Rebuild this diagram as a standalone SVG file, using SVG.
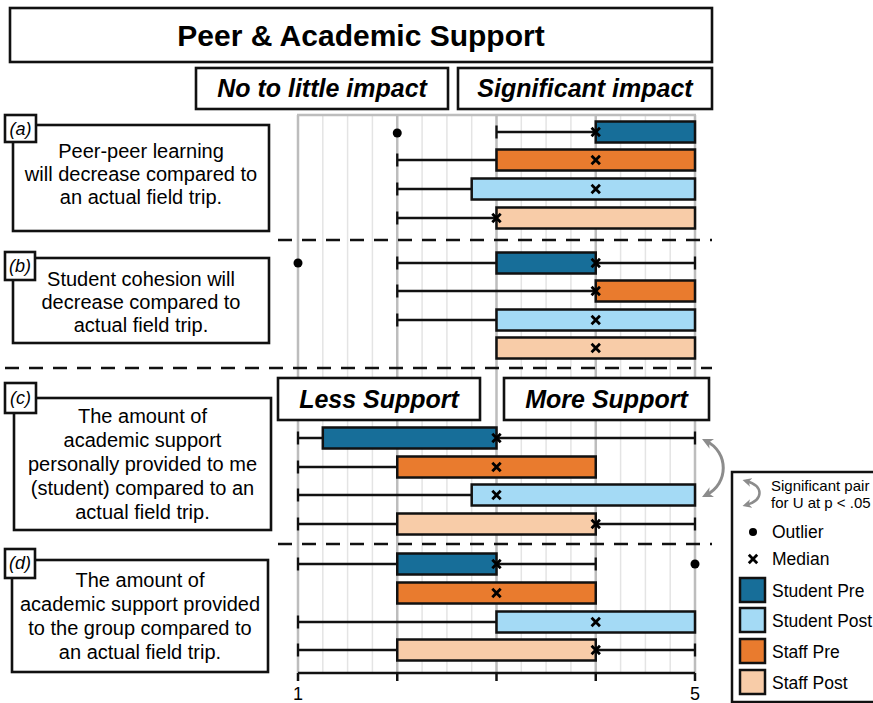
<svg xmlns="http://www.w3.org/2000/svg" width="873" height="703" viewBox="0 0 873 703">
<style>
text{font-family:"Liberation Sans",Arial,sans-serif;fill:#000}
.frame{fill:#fff;stroke:#111;stroke-width:2.6}
.q{font-size:20px;text-anchor:middle}
.lab{font-size:18px;font-style:italic;text-anchor:middle}
.hd{font-size:25px;font-weight:bold;font-style:italic;text-anchor:middle}
.minor{stroke:#e4e4e4;stroke-width:1.5}
.major{stroke:#bdbdbd;stroke-width:2.5}
.dash{stroke:#111;stroke-width:2.5;stroke-dasharray:14 10;fill:none}
.wh{stroke:#111;stroke-width:2.3;fill:none}
.bx{stroke:#111;stroke-width:2.5}
.sp{fill:#176e99}.fp{fill:#e97b2e}.so{fill:#a4daf5}.fo{fill:#f8cca8}
.lg{font-size:17.5px}
.sig{stroke:#8c8c8c;stroke-width:3;fill:none}
</style>
<defs>
<path id="med" d="M-4.2,-4.2 L4.2,4.2 M-4.2,4.2 L4.2,-4.2" stroke="#000" stroke-width="2.8" fill="none"/>
<marker id="ah" viewBox="0 0 10 10" refX="6" refY="5" markerWidth="11" markerHeight="11" markerUnits="userSpaceOnUse" orient="auto-start-reverse">
<path d="M0,0 L10,5 L0,10 L3,5 z" fill="#8c8c8c"/>
</marker>
<marker id="ahs" viewBox="0 0 10 10" refX="6" refY="5" markerWidth="9" markerHeight="9" markerUnits="userSpaceOnUse" orient="auto-start-reverse">
<path d="M0,0 L10,5 L0,10 L3,5 z" fill="#8c8c8c"/>
</marker>
</defs>
<rect width="873" height="703" fill="#fff"/>

<g id="title">
<rect class="frame" x="10" y="8" width="702" height="54" stroke-width="3"/>
<text x="361" y="46" font-size="30" font-weight="bold" text-anchor="middle">Peer &amp; Academic Support</text>
</g>

<g id="grid">
<g class="minor">
<line x1="322.8" y1="115" x2="322.8" y2="673"/><line x1="347.6" y1="115" x2="347.6" y2="673"/><line x1="372.4" y1="115" x2="372.4" y2="673"/>
<line x1="422.1" y1="115" x2="422.1" y2="673"/><line x1="446.9" y1="115" x2="446.9" y2="673"/><line x1="471.7" y1="115" x2="471.7" y2="673"/>
<line x1="521.3" y1="115" x2="521.3" y2="673"/><line x1="546.1" y1="115" x2="546.1" y2="673"/><line x1="570.9" y1="115" x2="570.9" y2="673"/>
<line x1="620.6" y1="115" x2="620.6" y2="673"/><line x1="645.4" y1="115" x2="645.4" y2="673"/><line x1="670.2" y1="115" x2="670.2" y2="673"/>
</g>
<g class="major">
<line x1="298" y1="115" x2="298" y2="673"/><line x1="397.25" y1="115" x2="397.25" y2="673"/><line x1="496.5" y1="115" x2="496.5" y2="673"/>
<line x1="595.75" y1="115" x2="595.75" y2="673"/><line x1="695" y1="115" x2="695" y2="673"/>
<line x1="297" y1="115" x2="696" y2="115"/>
</g>
</g>

<g id="separators">
<line class="dash" x1="278" y1="240" x2="712" y2="240"/>
<line class="dash" x1="5" y1="368" x2="712" y2="368"/>
<line class="dash" x1="278" y1="544" x2="712" y2="544"/>
</g>

<g id="heading-no-impact">
<rect class="frame" x="196" y="68" width="252" height="41"/>
<text class="hd" x="322" y="97">No to little impact</text>
</g>
<g id="heading-significant">
<rect class="frame" x="458" y="68" width="254" height="41"/>
<text class="hd" x="585" y="97">Significant impact</text>
</g>
<g id="heading-less">
<rect class="frame" x="278" y="378" width="202" height="42"/>
<text class="hd" x="379" y="408">Less Support</text>
</g>
<g id="heading-more">
<rect class="frame" x="504" y="378" width="205" height="42"/>
<text class="hd" x="606.5" y="408">More Support</text>
</g>

<g id="question-a">
<rect class="frame" x="13" y="125" width="256" height="106"/>
<text class="q" x="141" y="158">Peer-peer learning</text>
<text class="q" x="141" y="181">will decrease compared to</text>
<text class="q" x="141" y="204">an actual field trip.</text>
<rect class="frame" x="5" y="115" width="31" height="27" stroke-width="2"/>
<text class="lab" x="20.5" y="135">(a)</text>
</g>
<g id="question-b">
<rect class="frame" x="13" y="258" width="256" height="85"/>
<text class="q" x="141" y="286">Student cohesion will</text>
<text class="q" x="141" y="309">decrease compared to</text>
<text class="q" x="141" y="332">actual field trip.</text>
<rect class="frame" x="5" y="252" width="30" height="28" stroke-width="2"/>
<text class="lab" x="20" y="272">(b)</text>
</g>
<g id="question-c">
<rect class="frame" x="14" y="398" width="257" height="132"/>
<text class="q" x="142.5" y="423">The amount of</text>
<text class="q" x="142.5" y="447">academic support</text>
<text class="q" x="142.5" y="471">personally provided to me</text>
<text class="q" x="142.5" y="495">(student) compared to an</text>
<text class="q" x="142.5" y="519">actual field trip.</text>
<rect class="frame" x="5" y="383" width="31" height="30" stroke-width="2"/>
<text class="lab" x="20.5" y="404">(c)</text>
</g>
<g id="question-d">
<rect class="frame" x="12" y="560" width="256" height="112"/>
<text class="q" x="140" y="587">The amount of</text>
<text class="q" x="140" y="611">academic support provided</text>
<text class="q" x="140" y="635">to the group compared to</text>
<text class="q" x="140" y="659">an actual field trip.</text>
<rect class="frame" x="5" y="549" width="30" height="29" stroke-width="2"/>
<text class="lab" x="20" y="569">(d)</text>
</g>

<g id="plot-a">
<path class="wh" d="M496.5,125.5v13M496.5,132H595.75"/>
<rect class="bx sp" x="595.75" y="121.5" width="99.25" height="21"/>
<use href="#med" x="595.75" y="132"/>
<circle cx="397.25" cy="133" r="4.5" fill="#000"/>
<path class="wh" d="M397.25,153.5v13M397.25,160H496.5"/>
<rect class="bx fp" x="496.5" y="149.5" width="198.5" height="21"/>
<use href="#med" x="595.75" y="160"/>
<path class="wh" d="M397.25,182.5v13M397.25,189H471.7"/>
<rect class="bx so" x="471.7" y="178.5" width="223.3" height="21"/>
<use href="#med" x="595.75" y="189"/>
<path class="wh" d="M397.25,211.5v13M397.25,218H496.5"/>
<rect class="bx fo" x="496.5" y="207.5" width="198.5" height="21"/>
<use href="#med" x="496.5" y="218"/>
</g>

<g id="plot-b">
<circle cx="298" cy="263" r="4.5" fill="#000"/>
<path class="wh" d="M397.25,256.5v13M397.25,263H496.5M595.75,263H695M695,256.5v13"/>
<rect class="bx sp" x="496.5" y="252.5" width="99.25" height="21"/>
<use href="#med" x="595.75" y="263"/>
<path class="wh" d="M397.25,284.5v13M397.25,291H595.75"/>
<rect class="bx fp" x="595.75" y="280.5" width="99.25" height="21"/>
<use href="#med" x="595.75" y="291"/>
<path class="wh" d="M397.25,313.5v13M397.25,320H496.5"/>
<rect class="bx so" x="496.5" y="309.5" width="198.5" height="21"/>
<use href="#med" x="595.75" y="320"/>
<rect class="bx fo" x="496.5" y="337.5" width="198.5" height="21"/>
<use href="#med" x="595.75" y="348"/>
</g>

<g id="plot-c">
<path class="wh" d="M298,431.5v13M298,438H322.8M496.5,438H695M695,431.5v13"/>
<rect class="bx sp" x="322.8" y="427.5" width="173.7" height="21"/>
<use href="#med" x="496.5" y="438"/>
<path class="wh" d="M298,460.5v13M298,467H397.25"/>
<rect class="bx fp" x="397.25" y="456.5" width="198.5" height="21"/>
<use href="#med" x="496.5" y="467"/>
<path class="wh" d="M298,488.5v13M298,495H471.7"/>
<rect class="bx so" x="471.7" y="484.5" width="223.3" height="21"/>
<use href="#med" x="496.5" y="495"/>
<path class="wh" d="M298,517.5v13M298,524H397.25M595.75,524H695M695,517.5v13"/>
<rect class="bx fo" x="397.25" y="513.5" width="198.5" height="21"/>
<use href="#med" x="595.75" y="524"/>
</g>

<g id="plot-d">
<path class="wh" d="M298,557.5v13M298,564H397.25M496.5,564H595.75M595.75,557.5v13"/>
<rect class="bx sp" x="397.25" y="553.5" width="99.25" height="21"/>
<use href="#med" x="496.5" y="564"/>
<circle cx="695" cy="564" r="4.5" fill="#000"/>
<rect class="bx fp" x="397.25" y="582.5" width="198.5" height="21"/>
<use href="#med" x="496.5" y="593"/>
<path class="wh" d="M298,615.5v13M298,622H496.5"/>
<rect class="bx so" x="496.5" y="611.5" width="198.5" height="21"/>
<use href="#med" x="595.75" y="622"/>
<path class="wh" d="M298,643.5v13M298,650H397.25M595.75,650H695M695,643.5v13"/>
<rect class="bx fo" x="397.25" y="639.5" width="198.5" height="21"/>
<use href="#med" x="595.75" y="650"/>
</g>

<g id="axis">
<path d="M298,673H695M298,673v8M397.25,673v8M496.5,673v8M595.75,673v8M695,673v8" stroke="#111" stroke-width="2.5" fill="none"/>
<text x="298" y="700" font-size="18" text-anchor="middle">1</text>
<text x="695" y="700" font-size="18" text-anchor="middle">5</text>
</g>

<g id="connectors">
<path class="sig" d="M706,441 C729,452 729,484 706,495" marker-start="url(#ah)" marker-end="url(#ah)"/>
</g>

<g id="legend">
<rect x="732" y="472" width="160" height="230" fill="#fff" stroke="#111" stroke-width="2.5"/>
<path d="M746,481 C764,486 764,500 746,505" stroke="#8c8c8c" stroke-width="2.5" fill="none" marker-start="url(#ahs)" marker-end="url(#ahs)"/>
<text x="771" y="491" font-size="15">Significant pair</text>
<text x="771" y="508" font-size="15">for U at p &lt; .05</text>
<circle cx="753" cy="532" r="4" fill="#000"/>
<text class="lg" x="772" y="538">Outlier</text>
<use href="#med" x="753" y="559"/>
<text class="lg" x="772" y="565">Median</text>
<rect class="bx sp" x="740" y="578" width="25" height="24" stroke-width="3"/>
<text class="lg" x="772" y="597">Student Pre</text>
<rect class="bx so" x="740" y="608" width="25" height="24" stroke-width="3"/>
<text class="lg" x="772" y="627">Student Post</text>
<rect class="bx fp" x="740" y="639" width="25" height="24" stroke-width="3"/>
<text class="lg" x="772" y="658">Staff Pre</text>
<rect class="bx fo" x="740" y="670" width="25" height="24" stroke-width="3"/>
<text class="lg" x="772" y="689">Staff Post</text>
</g>
</svg>
